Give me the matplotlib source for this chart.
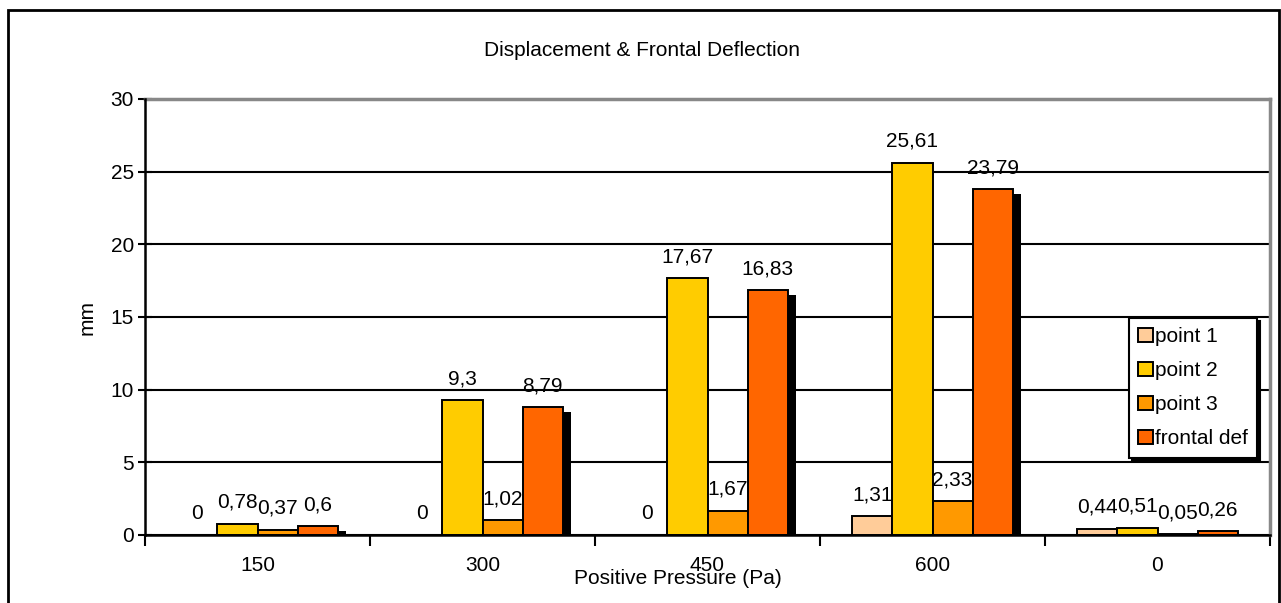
import matplotlib.pyplot as plt
import matplotlib.patheffects as pe
from matplotlib.patches import Rectangle, Patch
import numpy as np

plt.rcParams['font.family'] = ['Liberation Sans', 'DejaVu Sans']

# Displacement & frontal deflection data
pressures = ['150', '300', '450', '600', '0']
point1 = [0, 0, 0, 1.31, 0.44]
point2 = [0.78, 9.3, 17.67, 25.61, 0.51]
point3 = [0.37, 1.02, 1.67, 2.33, 0.05]
frontal_def = [0.6, 8.79, 16.83, 23.79, 0.26]

series_names = ['point 1', 'point 2', 'point 3', 'frontal def']
series_colors = ['#FFCC99', '#FFCC00', '#FF9900', '#FF6600']

FS = 15
W, H = 1281, 603
fig = plt.figure(figsize=(W / 100, H / 100), dpi=100)

# outer chart border
fig.patches.append(Rectangle((8 / W, -0.05), (1279 - 8) / W, (H - 10) / H + 0.05,
                             transform=fig.transFigure, fill=False,
                             edgecolor='black', linewidth=2, zorder=0))

ax = fig.add_axes([145 / W, (H - 535) / H, (1270 - 145) / W, (535 - 99) / H])

x = np.arange(len(pressures))
w = 0.178
all_series = [point1, point2, point3, frontal_def]
for i, vals in enumerate(all_series):
    offs = (i - 1.5) * w
    bars = ax.bar(x + offs, vals, width=w, color=series_colors[i],
                  edgecolor='black', linewidth=1.4, zorder=3 + i)
    if i == 3:
        # only the last series casts a visible shadow
        for b in bars:
            b.set_path_effects([pe.SimplePatchShadow(offset=(6, -3.6),
                                                     shadow_rgbFace='black',
                                                     alpha=1.0),
                                pe.Normal()])
    for xx, v in zip(x + offs, vals):
        ax.annotate(f"{v:g}".replace('.', ','), (xx, v), xytext=(0, 8.5),
                    textcoords='offset points', ha='center', va='bottom',
                    fontsize=FS, zorder=10)

ax.set_xlim(-0.5, len(pressures) - 0.5)
ax.set_ylim(0, 30)
ax.set_yticks(np.arange(0, 31, 5))
ax.tick_params(axis='y', labelsize=FS, direction='inout', length=10,
               width=1.5, pad=3)

# tick marks between categories, labels at category centres
ax.set_xticks(np.arange(-0.5, len(pressures), 1.0))
ax.set_xticklabels([])
ax.set_xticks(x, minor=True)
ax.set_xticklabels(pressures, minor=True)
ax.tick_params(axis='x', which='major', direction='out', length=8, width=1.5)
ax.tick_params(axis='x', which='minor', length=0, labelsize=FS, pad=15)

ax.yaxis.grid(True, color='black', linewidth=1.5, zorder=0)
ax.set_axisbelow(True)

for s in ['top', 'right']:
    ax.spines[s].set_color('#888888')
    ax.spines[s].set_linewidth(2.5)
for s in ['left', 'bottom']:
    ax.spines[s].set_color('black')
    ax.spines[s].set_linewidth(1.8)
    ax.spines[s].set_zorder(20)

fig.text(642 / W, 1 - 51 / H, 'Displacement & Frontal Deflection',
         ha='center', va='center', fontsize=FS)
fig.text(678 / W, 1 - 579 / H, 'Positive Pressure (Pa)',
         ha='center', va='center', fontsize=FS)
fig.text(87 / W, 1 - 317 / H, 'mm', ha='center', va='center',
         rotation=90, fontsize=FS)

handles = [Patch(facecolor=c, edgecolor='black', linewidth=1.4, label=n)
           for c, n in zip(series_colors, series_names)]
leg = ax.legend(handles=handles, loc='upper left',
                bbox_to_anchor=(1129 / W, 1 - 318 / H),
                bbox_transform=fig.transFigure, fontsize=FS,
                frameon=True, fancybox=False, edgecolor='black',
                shadow={'ox': 2, 'oy': -2, 'color': 'black', 'alpha': 1.0},
                handlelength=0.7, handleheight=0.7, handletextpad=0.1,
                labelspacing=0.72, borderpad=0.45, borderaxespad=0)
leg.get_frame().set_linewidth(1.5)
leg.set_zorder(30)

fig.savefig('out.png', dpi=100)
